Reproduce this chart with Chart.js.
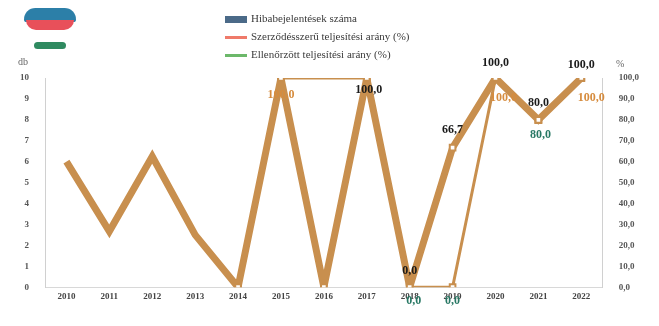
<!DOCTYPE html>
<html lang="hu">
<head>
<meta charset="utf-8" />
<title>Chart</title>
<script src="https://cdn.jsdelivr.net/npm/chart.js"></script>
<style>
  html, body { margin: 0; padding: 0; background: #fff; }
  #wrap { position: relative; width: 659px; height: 326px; font-family: "Liberation Serif", serif; }
  #wrap canvas { position: absolute; left: 0; top: 0; }
  .legend { position: absolute; left: 225px; top: 9px; font-size: 11px; color: #3a3a3a; }
  .legend div { height: 18px; line-height: 18px; white-space: nowrap; }
  .sw { display: inline-block; width: 22px; vertical-align: middle; margin-right: 4px; }
  .logo { position: absolute; left: 24px; top: 6px; width: 52px; height: 52px; }
  .logo .b { position: absolute; left: 0; top: 2px; width: 52px; height: 14px; border-radius: 26px 26px 6px 6px; background: #2c7fa8; }
  .logo .r { position: absolute; left: 2px; top: 14px; width: 48px; height: 10px; border-radius: 0 0 14px 14px; background: #e8505a; }
  .logo .g { position: absolute; left: 10px; top: 36px; width: 32px; height: 7px; border-radius: 6px; background: #2f8a60; }
  .unit { position: absolute; font-size: 10px; color: #666; }
</style>
</head>
<body>
<div id="wrap">
  <canvas id="Chart1" width="659" height="326"></canvas>
  <div class="logo"><div class="b"></div><div class="r"></div><div class="g"></div></div>
  <div class="unit" style="left:18px; top:56px;">db</div>
  <div class="unit" style="left:616px; top:58px;">%</div>
  <div class="legend">
    <div><span class="sw" style="height:7px; background:#4b6a88;"></span>Hibabejelentések száma</div>
    <div><span class="sw" style="height:3px; background:#ef7a6a;"></span>Szerződésszerű teljesítési arány (%)</div>
    <div><span class="sw" style="height:3px; background:#6cb86a;"></span>Ellenőrzött teljesítési arány (%)</div>
  </div>
</div>

<script>
    // data
    const years = ['2010', '2011', '2012', '2013', '2014', '2015', '2016', '2017', '2018', '2019', '2020', '2021', '2022'];
    const countTicks = [0, 1, 2, 3, 4, 5, 6, 7, 8, 9, 10];
    const counts = [0, 0, 0, 0, 0, 0, 0, 0, 0, 0, 0, 0, 0];
    const rateMain = [60, 26.7, 62.5, 25, 0, 100, 0, 100, 0, 66.7, 100, 80, 100];
    const rateContract = [null, null, null, null, null, 100, null, 100, null, null, 100, 80, 100];
    const rateChecked = [null, null, null, null, null, null, null, null, 0, 0, 100, 80, 100];

    // which points get a value label (index, offsets)
    const labelsMain = [{ i: 7, dx: 2, dy: 12 }, { i: 8, dx: 0, dy: -16 }, { i: 9, dx: 0, dy: -18 }, { i: 10, dx: 0, dy: -15 }, { i: 11, dx: 0, dy: -17 }, { i: 12, dx: 0, dy: -13 }];
    const labelsContract = [{ i: 5, dx: 0, dy: 17 }, { i: 10, dx: 8, dy: 20 }, { i: 12, dx: 10, dy: 20 }];
    const labelsChecked = [{ i: 8, dx: 4, dy: 14 }, { i: 9, dx: 0, dy: 14 }, { i: 11, dx: 2, dy: 15 }];

    const tan = 'rgb(200, 143, 78)';

    // the contract series is drawn in two runs: the early run bridges the 2016 gap
    const splitAt = 8;
    const contractEarly = rateContract.map((v, i) => i < splitAt ? v : null);
    const contractLate = rateContract.map((v, i) => i >= splitAt ? v : null);

    function fmt(v) {
        return v.toFixed(1).replace('.', ',');
    }

    const valueLabels = {
        id: 'valueLabels',
        afterDatasetsDraw(chart) {
            const ctx = chart.ctx;
            ctx.save();
            ctx.font = 'bold 12px "Liberation Serif", serif';
            ctx.textAlign = 'center';
            ctx.textBaseline = 'middle';
            chart.data.datasets.forEach((ds, di) => {
                if (!ds.valueLabels) return;
                const meta = chart.getDatasetMeta(di);
                ctx.fillStyle = ds.valueLabelColor;
                ds.valueLabels.forEach(l => {
                    const p = meta.data[l.i];
                    if (!p || ds.data[l.i] == null) return;
                    ctx.fillText(fmt(ds.data[l.i]), p.x + l.dx, p.y + l.dy);
                });
            });
            ctx.restore();
        }
    };

    function thinLine(label, data, labels, color, span) {
        return {
            type: 'line',
            label: label,
            data: data,
            yAxisID: 'y1',
            borderColor: tan,
            borderWidth: 3,
            spanGaps: span,
            fill: false,
            tension: 0,
            pointStyle: 'rect',
            pointRadius: 4,
            pointBackgroundColor: '#fff',
            pointBorderColor: tan,
            pointBorderWidth: 2,
            valueLabels: labels,
            valueLabelColor: color
        };
    }

    const ctx = document.getElementById('Chart1').getContext('2d');
    const chart = new Chart(ctx, {
        type: 'bar',
        data: {
            labels: years,
            datasets: [{
                type: 'line',
                label: 'Teljesítési arány (%)',
                data: rateMain,
                yAxisID: 'y1',
                borderColor: tan,
                borderWidth: 7,
                fill: false,
                tension: 0,
                pointStyle: 'rect',
                pointRadius: c => c.dataIndex < 4 ? 0 : 4,
                pointBackgroundColor: '#fff',
                pointBorderColor: tan,
                pointBorderWidth: 2,
                valueLabels: labelsMain,
                valueLabelColor: '#1a1a1a'
            },
            thinLine('Szerződésszerű teljesítési arány (%)', contractEarly, labelsContract, 'rgb(214, 140, 62)', true),
            thinLine('Szerződésszerű teljesítési arány (%)', contractLate, labelsContract, 'rgb(214, 140, 62)', false),
            thinLine('Ellenőrzött teljesítési arány (%)', rateChecked, labelsChecked, 'rgb(40, 120, 100)', false),
            {
                label: 'Hibabejelentések száma',
                data: counts,
                yAxisID: 'y',
                backgroundColor: '#4b6a88'
            }]
        },
        options: {
            responsive: false,
            animation: false,
            layout: {
                padding: { top: 78, bottom: 22, left: 12, right: 12 }
            },
            plugins: {
                legend: { display: false },
                tooltip: { enabled: false }
            },
            scales: {
                x: {
                    offset: true,
                    grid: { display: false, tickLength: 2 },
                    border: { color: '#d8d8d8' },
                    ticks: { color: '#444', font: { family: 'Liberation Serif', size: 9, weight: 'bold' }, maxRotation: 0, padding: 2 }
                },
                y: {
                    position: 'left',
                    min: 0,
                    max: 10,
                    afterBuildTicks: axis => { axis.ticks = countTicks.map(v => ({ value: v })); },
                    grid: { display: false },
                    border: { color: '#d0d0d0' },
                    ticks: { color: '#555', font: { family: 'Liberation Serif', size: 9, weight: 'bold' }, padding: 8 }
                },
                y1: {
                    position: 'right',
                    min: 0,
                    max: 100,
                    grid: { display: false },
                    border: { color: '#d0d0d0' },
                    ticks: { stepSize: 10, color: '#555', font: { family: 'Liberation Serif', size: 9, weight: 'bold' }, padding: 8, callback: v => fmt(v) }
                }
            }
        },
        plugins: [valueLabels]
    });
</script>
</body>
</html>
